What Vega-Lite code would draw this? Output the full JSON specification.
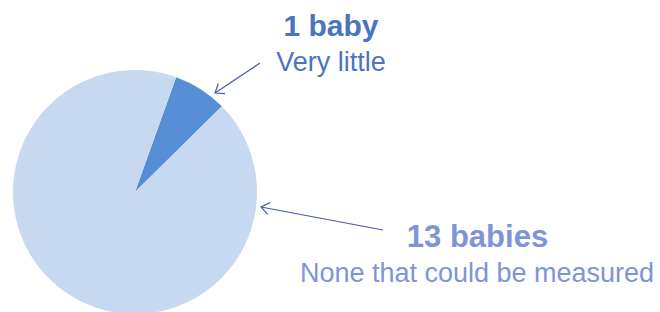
{
  "$schema": "https://vega.github.io/schema/vega-lite/v6.json",
  "width": 660,
  "height": 312,
  "autosize": {"type": "fit", "contains": "padding"},
  "padding": 0,
  "background": "white",
  "config": {"view": {"stroke": null}},
  "data": {"values": [{}]},
  "layer": [
    {
      "data": {"values": [
        {"category": "1 baby", "count": 1},
        {"category": "13 babies", "count": 13}
      ]},
      "mark": {"type": "arc", "radius": 122, "clip": true, "stroke": null},
      "encoding": {
        "theta": {"field": "count", "type": "quantitative", "stack": true, "scale": {"range": [0.344, 6.627]}},
        "color": {"field": "category", "type": "nominal", "scale": {"domain": ["1 baby", "13 babies"], "range": ["#558ED5", "#C6D9F1"]}, "legend": null},
        "x": {"datum": 135, "type": "quantitative", "scale": {"domain": [0, 660], "nice": false, "zero": false}, "axis": null},
        "y": {"datum": 192, "type": "quantitative", "scale": {"domain": [0, 312], "nice": false, "zero": false, "reverse": true}, "axis": null}
      }
    },
    {
      "mark": {"type": "rule", "stroke": "#4A5AA8", "strokeWidth": 1.2},
      "encoding": {
        "x": {"datum": 260, "type": "quantitative"},
        "y": {"datum": 63, "type": "quantitative"},
        "x2": {"datum": 215},
        "y2": {"datum": 93}
      }
    },
    {
      "mark": {"type": "point", "shape": "M-1,-0.75L0,0L-1,0.75", "filled": false, "stroke": "#4A5AA8", "strokeWidth": 1.2, "size": 256, "angle": 146.3, "opacity": 1},
      "encoding": {
        "x": {"datum": 215, "type": "quantitative"},
        "y": {"datum": 93, "type": "quantitative"}
      }
    },
    {
      "mark": {"type": "rule", "stroke": "#4A5AA8", "strokeWidth": 1.2},
      "encoding": {
        "x": {"datum": 383, "type": "quantitative"},
        "y": {"datum": 230, "type": "quantitative"},
        "x2": {"datum": 261},
        "y2": {"datum": 207}
      }
    },
    {
      "mark": {"type": "point", "shape": "M-1,-0.75L0,0L-1,0.75", "filled": false, "stroke": "#4A5AA8", "strokeWidth": 1.2, "size": 256, "angle": 190.7, "opacity": 1},
      "encoding": {
        "x": {"datum": 261, "type": "quantitative"},
        "y": {"datum": 207, "type": "quantitative"}
      }
    },
    {
      "mark": {"type": "text", "text": "1 baby", "font": "Liberation Sans", "fontWeight": "bold", "fontSize": 30, "color": "#4A74C0", "align": "center", "baseline": "alphabetic"},
      "encoding": {
        "x": {"datum": 331, "type": "quantitative"},
        "y": {"datum": 36, "type": "quantitative"}
      }
    },
    {
      "mark": {"type": "text", "text": "Very little", "font": "Liberation Sans", "fontSize": 27, "color": "#4A74C0", "align": "center", "baseline": "alphabetic"},
      "encoding": {
        "x": {"datum": 331, "type": "quantitative"},
        "y": {"datum": 71, "type": "quantitative"}
      }
    },
    {
      "mark": {"type": "text", "text": "13 babies", "font": "Liberation Sans", "fontWeight": "bold", "fontSize": 31, "color": "#7F94D6", "align": "center", "baseline": "alphabetic"},
      "encoding": {
        "x": {"datum": 477.5, "type": "quantitative"},
        "y": {"datum": 247, "type": "quantitative"}
      }
    },
    {
      "mark": {"type": "text", "text": "None that could be measured", "font": "Liberation Sans", "fontSize": 27, "color": "#7F94D6", "align": "center", "baseline": "alphabetic"},
      "encoding": {
        "x": {"datum": 477, "type": "quantitative"},
        "y": {"datum": 282, "type": "quantitative"}
      }
    }
  ]
}
